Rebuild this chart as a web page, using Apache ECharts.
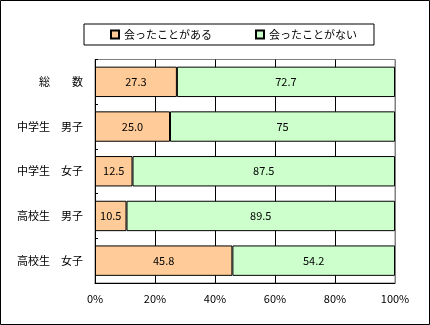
<!DOCTYPE html>
<html>
<head>
<meta charset="utf-8">
<script src="https://cdn.jsdelivr.net/npm/echarts@6/dist/echarts.min.js"></script>
<style>
  html, body { margin: 0; padding: 0; background: #fff; }
  #chart { width: 430px; height: 325px; }
</style>
</head>
<body>
<div id="chart"></div>
<script>
// Respondent groups (top to bottom)
const categories = ['総　　数', '中学生　男子', '中学生　女子', '高校生　男子', '高校生　女子'];
// Share of respondents (%)
const metValues = [27.3, 25.0, 12.5, 10.5, 45.8];
const notMetValues = [72.7, 75, 87.5, 89.5, 54.2];
const seriesNames = ['会ったことがある', '会ったことがない'];
const xTicks = [0, 20, 40, 60, 80, 100];

const FONT = '"Noto Sans CJK JP", sans-serif';

const chart = echarts.init(document.getElementById('chart'), null, { renderer: 'canvas' });

chart.setOption({
  backgroundColor: '#ffffff',
  animation: false,
  textStyle: { fontFamily: FONT },
  graphic: [{
    type: 'rect',
    shape: { x: 0.5, y: 0.5, width: 429, height: 324 },
    style: { fill: 'none', stroke: '#000', lineWidth: 1 },
    silent: true
  }],
  legend: {
    left: 84,
    top: 24,
    padding: [5, 17, 5, 26],
    itemGap: 43,
    itemWidth: 8,
    itemHeight: 8,
    icon: 'rect',
    borderColor: '#000',
    borderWidth: 1,
    textStyle: { fontSize: 11, color: '#000', fontFamily: FONT },
    data: seriesNames
  },
  grid: {
    left: 95,
    right: 35,
    top: 59.5,
    bottom: 42,
    show: true,
    borderColor: '#808080',
    borderWidth: 1,
    backgroundColor: '#fff'
  },
  xAxis: {
    type: 'value',
    min: xTicks[0],
    max: xTicks[xTicks.length - 1],
    interval: 20,
    axisLine: { show: true, lineStyle: { color: '#000', width: 1 } },
    axisTick: { show: false },
    axisLabel: {
      formatter: '{value}%',
      fontSize: 11,
      color: '#000',
      margin: 10,
      fontFamily: FONT
    },
    splitLine: {
      show: true,
      lineStyle: { color: ['#000', '#000', '#000', '#000', '#000', '#808080'], width: 1 }
    }
  },
  yAxis: {
    type: 'category',
    data: categories,
    inverse: true,
    axisLine: { show: true, lineStyle: { color: '#000', width: 1 } },
    axisTick: { show: true, inside: true, length: 3, lineStyle: { color: '#000' } },
    axisLabel: { fontSize: 11, color: '#000', margin: 12, fontFamily: FONT },
    splitLine: { show: false }
  },
  series: [
    {
      name: seriesNames[0],
      type: 'bar',
      stack: 'total',
      barCategoryGap: '32%',
      data: metValues,
      itemStyle: { color: '#FFCC99', borderColor: '#000', borderWidth: 1 },
      label: {
        show: true,
        position: 'inside',
        color: '#000',
        fontSize: 11,
        fontFamily: FONT,
        formatter: p => p.value.toFixed(1)
      }
    },
    {
      name: seriesNames[1],
      type: 'bar',
      stack: 'total',
      barCategoryGap: '32%',
      data: notMetValues,
      itemStyle: { color: '#CCFFCC', borderColor: '#000', borderWidth: 1 },
      label: {
        show: true,
        position: 'inside',
        color: '#000',
        fontSize: 11,
        fontFamily: FONT,
        formatter: p => String(p.value)
      }
    }
  ]
});
</script>
</body>
</html>
